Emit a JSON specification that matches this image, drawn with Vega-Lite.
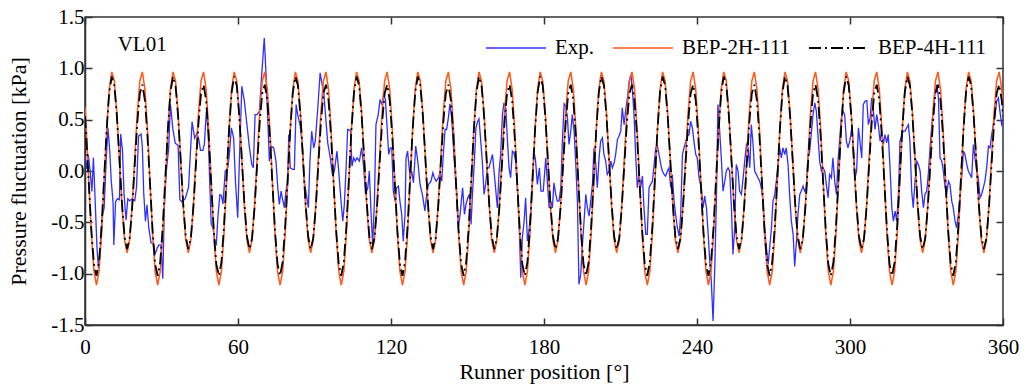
{
"$schema":"https://vega.github.io/schema/vega-lite/v6.json",
"width":918,"height":308,
"autosize":"none",
"padding":{"left":85,"top":17,"right":21,"bottom":66},
"background":"white",
"config":{"font":"Liberation Serif, Times New Roman, serif","view":{"stroke":"#333333","strokeWidth":1.5}},
"datasets":{
"exp":[
{"x":0.0,"e":0.15},{"x":0.7,"e":0.02},{"x":1.3,"e":0.16},{"x":2.0,"e":0.0},{"x":2.7,"e":-0.2},{"x":3.3,"e":0.13},{"x":4.0,"e":-0.3},{"x":4.7,"e":-0.75},{"x":5.3,"e":-0.95},{"x":6.0,"e":-0.75},{"x":6.7,"e":-0.45},{"x":7.5,"e":-0.36},{"x":8.3,"e":0.1},{"x":9.0,"e":0.42},{"x":9.7,"e":0.2},{"x":10.3,"e":-0.1},{"x":11.0,"e":-0.3},{"x":11.3,"e":-0.72},{"x":12.0,"e":-0.3},{"x":12.7,"e":-0.27},{"x":13.5,"e":-0.28},{"x":14.0,"e":0.36},{"x":14.7,"e":0.2},{"x":15.3,"e":-0.22},{"x":16.1,"e":-0.48},{"x":16.8,"e":-0.27},{"x":17.5,"e":-0.29},{"x":18.5,"e":-0.27},{"x":19.5,"e":-0.29},{"x":20.2,"e":-0.16},{"x":21.0,"e":0.34},{"x":22.0,"e":0.36},{"x":22.5,"e":0.23},{"x":23.0,"e":-0.2},{"x":23.7,"e":-0.49},{"x":24.3,"e":-0.33},{"x":25.0,"e":-0.55},{"x":25.9,"e":-0.7},{"x":26.7,"e":-0.7},{"x":27.5,"e":-0.81},{"x":28.3,"e":-0.75},{"x":29.0,"e":-0.72},{"x":29.8,"e":-0.72},{"x":30.5,"e":-1.05},{"x":31.1,"e":-0.36},{"x":31.9,"e":0.0},{"x":32.8,"e":0.22},{"x":33.5,"e":0.65},{"x":34.5,"e":0.4},{"x":35.4,"e":0.27},{"x":36.5,"e":0.25},{"x":37.2,"e":-0.28},{"x":38.0,"e":-0.3},{"x":39.3,"e":-0.27},{"x":40.6,"e":-0.16},{"x":42.0,"e":0.48},{"x":43.0,"e":0.32},{"x":43.9,"e":0.37},{"x":44.6,"e":0.31},{"x":45.3,"e":0.2},{"x":46.2,"e":0.2},{"x":46.8,"e":0.26},{"x":47.6,"e":0.58},{"x":48.3,"e":0.39},{"x":48.9,"e":-0.1},{"x":49.5,"e":-0.52},{"x":50.2,"e":-0.55},{"x":50.9,"e":-0.68},{"x":51.5,"e":-0.71},{"x":52.2,"e":-0.42},{"x":52.9,"e":-0.23},{"x":53.5,"e":-0.24},{"x":54.1,"e":-0.32},{"x":55.0,"e":0.0},{"x":56.0,"e":0.03},{"x":56.6,"e":0.16},{"x":57.4,"e":0.42},{"x":58.3,"e":0.32},{"x":59.0,"e":-0.1},{"x":59.8,"e":-0.42},
{"x":59.9,"e":-0.455},{"x":60.5,"e":0.064},{"x":61.5,"e":0.826},{"x":62.5,"e":0.68},{"x":63.5,"e":0.452},{"x":64.5,"e":0.226},{"x":65.4,"e":0.064},{"x":66.0,"e":0.031},{"x":66.7,"e":0.55},{"x":67.5,"e":0.55},{"x":68.4,"e":0.582},{"x":69.3,"e":0.939},{"x":70.3,"e":1.296},{"x":71.0,"e":0.939},{"x":71.6,"e":0.55},{"x":72.3,"e":0.096},{"x":73.0,"e":0.242},{"x":74.0,"e":0.226},{"x":74.9,"e":0.096},{"x":75.6,"e":-0.163},{"x":76.2,"e":-0.326},{"x":76.9,"e":-0.196},{"x":77.5,"e":-0.277},{"x":78.2,"e":-0.358},{"x":78.8,"e":-0.196},{"x":79.5,"e":-0.099},{"x":79.9,"e":0.355},{"x":80.5,"e":0.031},{"x":81.4,"e":0.015},{"x":82.1,"e":0.015},{"x":82.8,"e":0.647},{"x":83.4,"e":0.55},{"x":84.3,"e":0.452},{"x":85.1,"e":0.29},{"x":86.0,"e":-0.099},{"x":86.8,"e":-0.228},{"x":87.6,"e":-0.358},{"x":88.2,"e":0.096},{"x":88.9,"e":0.388},{"x":89.7,"e":0.226},{"x":90.3,"e":0.29},{"x":91.3,"e":0.615},{"x":92.2,"e":0.955},{"x":93.0,"e":0.841},{"x":93.6,"e":0.777},{"x":94.5,"e":0.485},{"x":95.2,"e":0.274},{"x":96.2,"e":0.128},{"x":97.1,"e":-0.05},{"x":97.8,"e":0.0},{"x":98.8,"e":0.193},{"x":99.5,"e":0.0},{"x":100.4,"e":-0.293},{"x":101.1,"e":-0.488},{"x":101.7,"e":-0.326},{"x":102.4,"e":0.031},{"x":103.0,"e":0.404},{"x":104.1,"e":0.394},{"x":104.7,"e":0.047},{"x":105.4,"e":0.128},{"x":106.0,"e":0.096},{"x":106.7,"e":0.128},{"x":107.6,"e":0.096},{"x":108.5,"e":0.226},{"x":109.3,"e":0.031},{"x":110.0,"e":-0.228},{"x":110.9,"e":-0.163},{"x":111.5,"e":0.0},{"x":112.2,"e":-0.423},{"x":112.8,"e":-0.72},{"x":113.5,"e":-0.293},{"x":114.1,"e":0.452},{"x":115.0,"e":0.55},{"x":115.7,"e":0.696},{"x":116.5,"e":0.647},{"x":117.1,"e":0.744},{"x":117.8,"e":0.696},{"x":118.4,"e":0.452},{"x":119.1,"e":0.161},{"x":119.7,"e":0.226},
{"x":120.3,"e":0.226},{"x":120.9,"e":-0.196},{"x":121.6,"e":-0.293},{"x":122.2,"e":-0.163},{"x":122.9,"e":-0.147},{"x":123.5,"e":-0.293},{"x":124.2,"e":-0.423},{"x":124.8,"e":-0.683},{"x":125.5,"e":-0.423},{"x":125.9,"e":0.128},{"x":126.5,"e":0.193},{"x":127.5,"e":-0.066},{"x":128.1,"e":0.0},{"x":128.8,"e":-0.115},{"x":129.7,"e":0.242},{"x":130.5,"e":0.096},{"x":131.4,"e":-0.131},{"x":132.3,"e":-0.228},{"x":133.3,"e":-0.39},{"x":134.0,"e":-0.228},{"x":134.7,"e":-0.131},{"x":135.7,"e":-0.099},{"x":136.4,"e":-0.018},{"x":137.0,"e":-0.066},{"x":137.7,"e":-0.099},{"x":138.6,"e":-0.066},{"x":139.2,"e":-0.018},{"x":139.9,"e":-0.099},{"x":140.5,"e":0.161},{"x":141.2,"e":0.404},{"x":141.8,"e":0.404},{"x":142.5,"e":0.517},{"x":143.1,"e":0.654},{"x":143.8,"e":0.517},{"x":144.5,"e":0.226},{"x":145.1,"e":0.0},{"x":145.8,"e":-0.228},{"x":146.4,"e":-0.553},{"x":147.1,"e":-0.423},{"x":147.7,"e":-0.261},{"x":148.1,"e":-0.163},{"x":148.8,"e":-0.423},{"x":149.4,"e":-0.326},{"x":150.1,"e":-0.261},{"x":150.7,"e":-0.228},{"x":151.4,"e":-0.52},{"x":152.0,"e":-0.196},{"x":152.7,"e":0.096},{"x":153.3,"e":0.42},{"x":154.0,"e":0.485},{"x":154.5,"e":0.508},{"x":155.2,"e":0.29},{"x":155.8,"e":0.096},{"x":156.5,"e":-0.228},{"x":157.1,"e":-0.131},{"x":157.8,"e":0.031},{"x":158.4,"e":0.031},{"x":159.1,"e":0.096},{"x":159.8,"e":0.161},{"x":160.4,"e":0.0},{"x":161.0,"e":-0.163},{"x":161.7,"e":-0.358},{"x":162.4,"e":0.0},{"x":163.0,"e":0.161},{"x":163.7,"e":0.55},{"x":164.3,"e":0.663},{"x":165.0,"e":0.615},{"x":165.6,"e":0.323},{"x":166.3,"e":0.031},{"x":166.9,"e":-0.066},{"x":167.6,"e":0.193},{"x":168.2,"e":0.177},{"x":168.9,"e":0.096},{"x":169.6,"e":-0.196},{"x":170.2,"e":-0.488},{"x":170.9,"e":-1.04},{"x":171.5,"e":-0.65},{"x":172.2,"e":-0.488},{"x":172.8,"e":-0.261},{"x":173.5,"e":-0.683},{"x":174.1,"e":-0.585},{"x":174.9,"e":-0.39},{"x":175.4,"e":-0.131},{"x":176.1,"e":0.193},{"x":176.7,"e":0.096},{"x":177.4,"e":-0.131},{"x":178.2,"e":0.031},{"x":178.8,"e":-0.196},{"x":179.7,"e":-0.196},
{"x":180.7,"e":0.128},{"x":181.3,"e":-0.099},{"x":182.0,"e":-0.358},{"x":182.6,"e":-0.293},{"x":183.3,"e":-0.358},{"x":183.9,"e":-0.115},{"x":184.6,"e":-0.228},{"x":185.2,"e":-0.293},{"x":185.9,"e":-0.293},{"x":186.6,"e":-0.163},{"x":187.2,"e":0.29},{"x":187.9,"e":0.654},{"x":188.5,"e":0.631},{"x":189.2,"e":0.517},{"x":189.8,"e":0.258},{"x":190.5,"e":0.388},{"x":191.1,"e":0.55},{"x":191.8,"e":0.388},{"x":192.4,"e":0.096},{"x":193.1,"e":-0.293},{"x":193.7,"e":-1.104},{"x":194.4,"e":-1.007},{"x":195.0,"e":-0.747},{"x":195.7,"e":-0.488},{"x":196.4,"e":-0.228},{"x":197.0,"e":-0.358},{"x":197.7,"e":-0.439},{"x":198.3,"e":-0.293},{"x":199.0,"e":-0.131},{"x":199.6,"e":0.226},{"x":200.3,"e":0.064},{"x":200.9,"e":-0.163},{"x":201.6,"e":0.128},{"x":202.2,"e":0.29},{"x":202.9,"e":0.323},{"x":203.5,"e":0.161},{"x":204.2,"e":0.096},{"x":204.8,"e":-0.034},{"x":205.5,"e":0.0},{"x":206.2,"e":0.096},{"x":206.8,"e":0.031},{"x":207.5,"e":0.08},{"x":208.1,"e":0.161},{"x":208.8,"e":0.307},{"x":209.4,"e":0.339},{"x":210.1,"e":0.388},{"x":210.7,"e":0.615},{"x":211.4,"e":0.452},{"x":212.0,"e":0.582},{"x":212.7,"e":0.712},{"x":213.4,"e":0.874},{"x":214.1,"e":0.939},{"x":214.7,"e":0.777},{"x":215.3,"e":0.55},{"x":216.0,"e":0.128},{"x":216.6,"e":-0.163},{"x":217.3,"e":-0.034},{"x":217.9,"e":-0.163},{"x":218.6,"e":-0.05},{"x":219.2,"e":-0.358},{"x":219.9,"e":-0.618},{"x":220.5,"e":-0.618},{"x":221.2,"e":-0.163},{"x":221.8,"e":-0.131},{"x":222.5,"e":-0.099},{"x":223.2,"e":0.064},{"x":223.8,"e":0.226},{"x":224.5,"e":0.242},{"x":225.1,"e":0.161},{"x":225.8,"e":0.064},{"x":226.4,"e":0.0},{"x":227.1,"e":-0.034},{"x":227.7,"e":-0.05},{"x":228.4,"e":0.0},{"x":229.0,"e":0.031},{"x":229.7,"e":-0.163},{"x":230.3,"e":-0.034},{"x":231.0,"e":-0.293},{"x":231.6,"e":-0.423},{"x":232.3,"e":-0.553},{"x":233.0,"e":-0.634},{"x":233.6,"e":-0.423},{"x":234.3,"e":0.161},{"x":234.9,"e":0.226},{"x":235.6,"e":0.29},{"x":236.2,"e":0.339},{"x":236.9,"e":0.355},{"x":237.5,"e":0.485},{"x":238.2,"e":0.42},{"x":238.8,"e":0.29},{"x":239.5,"e":0.161},{"x":240.1,"e":0.128},{"x":240.8,"e":-0.066},
{"x":241.1,"e":-0.099},{"x":241.7,"e":-0.163},{"x":242.4,"e":-0.358},{"x":243.0,"e":-0.245},{"x":243.7,"e":-0.358},{"x":244.3,"e":-0.585},{"x":245.0,"e":-0.877},{"x":245.6,"e":-1.072},{"x":246.3,"e":-1.46},{"x":247.0,"e":-0.91},{"x":247.6,"e":-0.293},{"x":248.2,"e":0.647},{"x":248.9,"e":0.388},{"x":249.6,"e":0.096},{"x":250.2,"e":-0.196},{"x":250.9,"e":-0.099},{"x":251.5,"e":0.0},{"x":252.2,"e":0.031},{"x":252.8,"e":0.0},{"x":253.5,"e":-0.358},{"x":254.1,"e":-0.812},{"x":254.8,"e":-0.553},{"x":255.4,"e":0.064},{"x":256.1,"e":0.0},{"x":256.7,"e":-0.196},{"x":257.4,"e":-0.228},{"x":258.1,"e":-0.066},{"x":258.7,"e":0.096},{"x":259.4,"e":0.258},{"x":260.0,"e":0.226},{"x":260.7,"e":0.031},{"x":261.3,"e":0.452},{"x":262.0,"e":0.258},{"x":262.6,"e":0.0},{"x":263.3,"e":-0.034},{"x":263.9,"e":-0.066},{"x":264.6,"e":-0.099},{"x":265.2,"e":-0.163},{"x":265.9,"e":-0.293},{"x":266.5,"e":-0.553},{"x":267.2,"e":-0.747},{"x":267.9,"e":-0.91},{"x":268.5,"e":-0.747},{"x":269.2,"e":-0.553},{"x":269.8,"e":-0.293},{"x":270.5,"e":-0.228},{"x":271.1,"e":-0.099},{"x":271.8,"e":0.064},{"x":272.4,"e":0.226},{"x":273.1,"e":0.128},{"x":273.7,"e":0.226},{"x":274.4,"e":0.161},{"x":275.0,"e":0.226},{"x":275.7,"e":0.064},{"x":276.4,"e":-0.261},{"x":277.0,"e":-0.488},{"x":277.7,"e":-0.618},{"x":278.3,"e":-0.93},{"x":279.0,"e":-0.683},{"x":279.6,"e":-0.423},{"x":280.3,"e":-0.228},{"x":280.9,"e":-0.196},{"x":281.6,"e":-0.147},{"x":282.2,"e":-0.196},{"x":282.9,"e":-0.163},{"x":283.5,"e":0.128},{"x":284.2,"e":0.193},{"x":284.9,"e":0.388},{"x":285.5,"e":0.55},{"x":286.2,"e":0.663},{"x":286.8,"e":0.582},{"x":287.5,"e":0.323},{"x":288.1,"e":0.096},{"x":288.8,"e":0.0},{"x":289.4,"e":0.031},{"x":290.1,"e":0.0},{"x":290.7,"e":-0.131},{"x":291.4,"e":-0.261},{"x":292.0,"e":-0.034},{"x":292.7,"e":-0.066},{"x":293.3,"e":0.128},{"x":294.0,"e":-0.099},{"x":294.7,"e":-0.228},{"x":295.3,"e":0.096},{"x":296.0,"e":0.323},{"x":296.6,"e":0.517},{"x":297.3,"e":0.582},{"x":297.9,"e":0.55},{"x":298.6,"e":0.29},{"x":299.2,"e":0.226},{"x":299.9,"e":0.29},
{"x":300.7,"e":0.42},{"x":301.3,"e":0.226},{"x":302.0,"e":-0.066},{"x":302.6,"e":0.0},{"x":303.3,"e":0.42},{"x":303.9,"e":0.29},{"x":304.6,"e":0.128},{"x":305.2,"e":0.647},{"x":305.9,"e":0.68},{"x":306.6,"e":0.686},{"x":307.2,"e":0.452},{"x":307.9,"e":0.517},{"x":308.5,"e":0.712},{"x":309.2,"e":0.582},{"x":309.8,"e":0.404},{"x":310.5,"e":0.55},{"x":311.1,"e":0.452},{"x":311.8,"e":0.29},{"x":312.4,"e":0.388},{"x":313.1,"e":0.258},{"x":313.7,"e":0.355},{"x":314.4,"e":0.274},{"x":315.0,"e":0.355},{"x":315.7,"e":0.031},{"x":316.4,"e":-0.358},{"x":317.0,"e":-0.488},{"x":317.7,"e":-0.39},{"x":318.3,"e":-0.488},{"x":319.0,"e":-0.228},{"x":319.6,"e":0.29},{"x":320.3,"e":0.355},{"x":320.9,"e":0.388},{"x":321.6,"e":0.388},{"x":322.2,"e":0.42},{"x":322.9,"e":0.452},{"x":323.5,"e":0.29},{"x":324.2,"e":-0.196},{"x":324.8,"e":-0.358},{"x":325.5,"e":-0.099},{"x":326.2,"e":0.096},{"x":326.8,"e":0.064},{"x":327.5,"e":0.0},{"x":328.1,"e":-0.196},{"x":328.8,"e":-0.358},{"x":329.4,"e":-0.228},{"x":330.1,"e":-0.196},{"x":330.7,"e":-0.034},{"x":331.4,"e":0.226},{"x":332.0,"e":0.42},{"x":332.7,"e":0.615},{"x":333.3,"e":0.744},{"x":334.0,"e":0.841},{"x":334.7,"e":0.712},{"x":335.3,"e":0.128},{"x":336.0,"e":0.096},{"x":336.6,"e":0.0},{"x":337.3,"e":-0.163},{"x":337.9,"e":-0.228},{"x":338.6,"e":-0.099},{"x":339.2,"e":-0.131},{"x":339.9,"e":-0.293},{"x":340.5,"e":-0.358},{"x":341.2,"e":-0.488},{"x":341.8,"e":-0.553},{"x":342.5,"e":-0.423},{"x":343.1,"e":-0.261},{"x":343.8,"e":-0.066},{"x":344.5,"e":0.193},{"x":345.1,"e":0.161},{"x":345.8,"e":0.064},{"x":346.4,"e":0.0},{"x":347.1,"e":-0.034},{"x":347.7,"e":-0.066},{"x":348.4,"e":0.258},{"x":349.0,"e":0.128},{"x":349.7,"e":0.0},{"x":350.3,"e":-0.066},{"x":351.0,"e":-0.261},{"x":351.6,"e":-0.228},{"x":352.3,"e":-0.163},{"x":352.9,"e":-0.099},{"x":353.6,"e":0.031},{"x":354.3,"e":0.242},{"x":354.9,"e":0.226},{"x":355.6,"e":0.355},{"x":356.2,"e":0.452},{"x":356.9,"e":0.55},{"x":357.5,"e":0.68},{"x":358.2,"e":0.712},{"x":358.8,"e":0.582},{"x":359.5,"e":0.452},{"x":360.0,"e":0.48}
],
"sim":[
{"x":0,"o":0.624,"k":0.534},
{"x":0.5,"o":0.407,"k":0.338},{"x":1.5,"o":-0.105,"k":-0.125},{"x":2.5,"o":-0.61,"k":-0.58},{"x":3.5,"o":-0.977,"k":-0.907},{"x":4.5,"o":-1.111,"k":-1.02},{"x":5.5,"o":-0.977,"k":-0.887},{"x":6.5,"o":-0.61,"k":-0.54},{"x":7.5,"o":-0.105,"k":-0.069},{"x":8.5,"o":0.407,"k":0.407},{"x":9.5,"o":0.796,"k":0.766},{"x":10.5,"o":0.965,"k":0.92},{"x":11.5,"o":0.877,"k":0.834},{"x":12.5,"o":0.564,"k":0.537},{"x":13.5,"o":0.117,"k":0.115},{"x":14.5,"o":-0.337,"k":-0.315},{"x":15.5,"o":-0.672,"k":-0.635},{"x":16.5,"o":-0.796,"k":-0.76},{"x":17.5,"o":-0.672,"k":-0.656},{"x":18.5,"o":-0.337,"k":-0.355},{"x":19.5,"o":0.117,"k":0.059},{"x":20.5,"o":0.564,"k":0.468},{"x":21.5,"o":0.877,"k":0.756},{"x":22.5,"o":0.965,"k":0.84},{"x":23.5,"o":0.796,"k":0.689},
{"x":24.5,"o":0.407,"k":0.338},{"x":25.5,"o":-0.105,"k":-0.125},{"x":26.5,"o":-0.61,"k":-0.58},{"x":27.5,"o":-0.977,"k":-0.907},{"x":28.5,"o":-1.111,"k":-1.02},{"x":29.5,"o":-0.977,"k":-0.887},{"x":30.5,"o":-0.61,"k":-0.54},{"x":31.5,"o":-0.105,"k":-0.069},{"x":32.5,"o":0.407,"k":0.407},{"x":33.5,"o":0.796,"k":0.766},{"x":34.5,"o":0.965,"k":0.92},{"x":35.5,"o":0.877,"k":0.834},{"x":36.5,"o":0.564,"k":0.537},{"x":37.5,"o":0.117,"k":0.115},{"x":38.5,"o":-0.337,"k":-0.315},{"x":39.5,"o":-0.672,"k":-0.635},{"x":40.5,"o":-0.796,"k":-0.76},{"x":41.5,"o":-0.672,"k":-0.656},{"x":42.5,"o":-0.337,"k":-0.355},{"x":43.5,"o":0.117,"k":0.059},{"x":44.5,"o":0.564,"k":0.468},{"x":45.5,"o":0.877,"k":0.756},{"x":46.5,"o":0.965,"k":0.84},{"x":47.5,"o":0.796,"k":0.689},
{"x":48.5,"o":0.407,"k":0.338},{"x":49.5,"o":-0.105,"k":-0.125},{"x":50.5,"o":-0.61,"k":-0.58},{"x":51.5,"o":-0.977,"k":-0.907},{"x":52.5,"o":-1.111,"k":-1.02},{"x":53.5,"o":-0.977,"k":-0.887},{"x":54.5,"o":-0.61,"k":-0.54},{"x":55.5,"o":-0.105,"k":-0.069},{"x":56.5,"o":0.407,"k":0.407},{"x":57.5,"o":0.796,"k":0.766},{"x":58.5,"o":0.965,"k":0.92},{"x":59.5,"o":0.877,"k":0.834},{"x":60.5,"o":0.564,"k":0.537},{"x":61.5,"o":0.117,"k":0.115},{"x":62.5,"o":-0.337,"k":-0.315},{"x":63.5,"o":-0.672,"k":-0.635},{"x":64.5,"o":-0.796,"k":-0.76},{"x":65.5,"o":-0.672,"k":-0.656},{"x":66.5,"o":-0.337,"k":-0.355},{"x":67.5,"o":0.117,"k":0.059},{"x":68.5,"o":0.564,"k":0.468},{"x":69.5,"o":0.877,"k":0.756},{"x":70.5,"o":0.965,"k":0.84},{"x":71.5,"o":0.796,"k":0.689},
{"x":72.5,"o":0.407,"k":0.338},{"x":73.5,"o":-0.105,"k":-0.125},{"x":74.5,"o":-0.61,"k":-0.58},{"x":75.5,"o":-0.977,"k":-0.907},{"x":76.5,"o":-1.111,"k":-1.02},{"x":77.5,"o":-0.977,"k":-0.887},{"x":78.5,"o":-0.61,"k":-0.54},{"x":79.5,"o":-0.105,"k":-0.069},{"x":80.5,"o":0.407,"k":0.407},{"x":81.5,"o":0.796,"k":0.766},{"x":82.5,"o":0.965,"k":0.92},{"x":83.5,"o":0.877,"k":0.834},{"x":84.5,"o":0.564,"k":0.537},{"x":85.5,"o":0.117,"k":0.115},{"x":86.5,"o":-0.337,"k":-0.315},{"x":87.5,"o":-0.672,"k":-0.635},{"x":88.5,"o":-0.796,"k":-0.76},{"x":89.5,"o":-0.672,"k":-0.656},{"x":90.5,"o":-0.337,"k":-0.355},{"x":91.5,"o":0.117,"k":0.059},{"x":92.5,"o":0.564,"k":0.468},{"x":93.5,"o":0.877,"k":0.756},{"x":94.5,"o":0.965,"k":0.84},{"x":95.5,"o":0.796,"k":0.689},
{"x":96.5,"o":0.407,"k":0.338},{"x":97.5,"o":-0.105,"k":-0.125},{"x":98.5,"o":-0.61,"k":-0.58},{"x":99.5,"o":-0.977,"k":-0.907},{"x":100.5,"o":-1.111,"k":-1.02},{"x":101.5,"o":-0.977,"k":-0.887},{"x":102.5,"o":-0.61,"k":-0.54},{"x":103.5,"o":-0.105,"k":-0.069},{"x":104.5,"o":0.407,"k":0.407},{"x":105.5,"o":0.796,"k":0.766},{"x":106.5,"o":0.965,"k":0.92},{"x":107.5,"o":0.877,"k":0.834},{"x":108.5,"o":0.564,"k":0.537},{"x":109.5,"o":0.117,"k":0.115},{"x":110.5,"o":-0.337,"k":-0.315},{"x":111.5,"o":-0.672,"k":-0.635},{"x":112.5,"o":-0.796,"k":-0.76},{"x":113.5,"o":-0.672,"k":-0.656},{"x":114.5,"o":-0.337,"k":-0.355},{"x":115.5,"o":0.117,"k":0.059},{"x":116.5,"o":0.564,"k":0.468},{"x":117.5,"o":0.877,"k":0.756},{"x":118.5,"o":0.965,"k":0.84},{"x":119.5,"o":0.796,"k":0.689},
{"x":120.5,"o":0.407,"k":0.338},{"x":121.5,"o":-0.105,"k":-0.125},{"x":122.5,"o":-0.61,"k":-0.58},{"x":123.5,"o":-0.977,"k":-0.907},{"x":124.5,"o":-1.111,"k":-1.02},{"x":125.5,"o":-0.977,"k":-0.887},{"x":126.5,"o":-0.61,"k":-0.54},{"x":127.5,"o":-0.105,"k":-0.069},{"x":128.5,"o":0.407,"k":0.407},{"x":129.5,"o":0.796,"k":0.766},{"x":130.5,"o":0.965,"k":0.92},{"x":131.5,"o":0.877,"k":0.834},{"x":132.5,"o":0.564,"k":0.537},{"x":133.5,"o":0.117,"k":0.115},{"x":134.5,"o":-0.337,"k":-0.315},{"x":135.5,"o":-0.672,"k":-0.635},{"x":136.5,"o":-0.796,"k":-0.76},{"x":137.5,"o":-0.672,"k":-0.656},{"x":138.5,"o":-0.337,"k":-0.355},{"x":139.5,"o":0.117,"k":0.059},{"x":140.5,"o":0.564,"k":0.468},{"x":141.5,"o":0.877,"k":0.756},{"x":142.5,"o":0.965,"k":0.84},{"x":143.5,"o":0.796,"k":0.689},
{"x":144.5,"o":0.407,"k":0.338},{"x":145.5,"o":-0.105,"k":-0.125},{"x":146.5,"o":-0.61,"k":-0.58},{"x":147.5,"o":-0.977,"k":-0.907},{"x":148.5,"o":-1.111,"k":-1.02},{"x":149.5,"o":-0.977,"k":-0.887},{"x":150.5,"o":-0.61,"k":-0.54},{"x":151.5,"o":-0.105,"k":-0.069},{"x":152.5,"o":0.407,"k":0.407},{"x":153.5,"o":0.796,"k":0.766},{"x":154.5,"o":0.965,"k":0.92},{"x":155.5,"o":0.877,"k":0.834},{"x":156.5,"o":0.564,"k":0.537},{"x":157.5,"o":0.117,"k":0.115},{"x":158.5,"o":-0.337,"k":-0.315},{"x":159.5,"o":-0.672,"k":-0.635},{"x":160.5,"o":-0.796,"k":-0.76},{"x":161.5,"o":-0.672,"k":-0.656},{"x":162.5,"o":-0.337,"k":-0.355},{"x":163.5,"o":0.117,"k":0.059},{"x":164.5,"o":0.564,"k":0.468},{"x":165.5,"o":0.877,"k":0.756},{"x":166.5,"o":0.965,"k":0.84},{"x":167.5,"o":0.796,"k":0.689},
{"x":168.5,"o":0.407,"k":0.338},{"x":169.5,"o":-0.105,"k":-0.125},{"x":170.5,"o":-0.61,"k":-0.58},{"x":171.5,"o":-0.977,"k":-0.907},{"x":172.5,"o":-1.111,"k":-1.02},{"x":173.5,"o":-0.977,"k":-0.887},{"x":174.5,"o":-0.61,"k":-0.54},{"x":175.5,"o":-0.105,"k":-0.069},{"x":176.5,"o":0.407,"k":0.407},{"x":177.5,"o":0.796,"k":0.766},{"x":178.5,"o":0.965,"k":0.92},{"x":179.5,"o":0.877,"k":0.834},{"x":180.5,"o":0.564,"k":0.537},{"x":181.5,"o":0.117,"k":0.115},{"x":182.5,"o":-0.337,"k":-0.315},{"x":183.5,"o":-0.672,"k":-0.635},{"x":184.5,"o":-0.796,"k":-0.76},{"x":185.5,"o":-0.672,"k":-0.656},{"x":186.5,"o":-0.337,"k":-0.355},{"x":187.5,"o":0.117,"k":0.059},{"x":188.5,"o":0.564,"k":0.468},{"x":189.5,"o":0.877,"k":0.756},{"x":190.5,"o":0.965,"k":0.84},{"x":191.5,"o":0.796,"k":0.689},
{"x":192.5,"o":0.407,"k":0.338},{"x":193.5,"o":-0.105,"k":-0.125},{"x":194.5,"o":-0.61,"k":-0.58},{"x":195.5,"o":-0.977,"k":-0.907},{"x":196.5,"o":-1.111,"k":-1.02},{"x":197.5,"o":-0.977,"k":-0.887},{"x":198.5,"o":-0.61,"k":-0.54},{"x":199.5,"o":-0.105,"k":-0.069},{"x":200.5,"o":0.407,"k":0.407},{"x":201.5,"o":0.796,"k":0.766},{"x":202.5,"o":0.965,"k":0.92},{"x":203.5,"o":0.877,"k":0.834},{"x":204.5,"o":0.564,"k":0.537},{"x":205.5,"o":0.117,"k":0.115},{"x":206.5,"o":-0.337,"k":-0.315},{"x":207.5,"o":-0.672,"k":-0.635},{"x":208.5,"o":-0.796,"k":-0.76},{"x":209.5,"o":-0.672,"k":-0.656},{"x":210.5,"o":-0.337,"k":-0.355},{"x":211.5,"o":0.117,"k":0.059},{"x":212.5,"o":0.564,"k":0.468},{"x":213.5,"o":0.877,"k":0.756},{"x":214.5,"o":0.965,"k":0.84},{"x":215.5,"o":0.796,"k":0.689},
{"x":216.5,"o":0.407,"k":0.338},{"x":217.5,"o":-0.105,"k":-0.125},{"x":218.5,"o":-0.61,"k":-0.58},{"x":219.5,"o":-0.977,"k":-0.907},{"x":220.5,"o":-1.111,"k":-1.02},{"x":221.5,"o":-0.977,"k":-0.887},{"x":222.5,"o":-0.61,"k":-0.54},{"x":223.5,"o":-0.105,"k":-0.069},{"x":224.5,"o":0.407,"k":0.407},{"x":225.5,"o":0.796,"k":0.766},{"x":226.5,"o":0.965,"k":0.92},{"x":227.5,"o":0.877,"k":0.834},{"x":228.5,"o":0.564,"k":0.537},{"x":229.5,"o":0.117,"k":0.115},{"x":230.5,"o":-0.337,"k":-0.315},{"x":231.5,"o":-0.672,"k":-0.635},{"x":232.5,"o":-0.796,"k":-0.76},{"x":233.5,"o":-0.672,"k":-0.656},{"x":234.5,"o":-0.337,"k":-0.355},{"x":235.5,"o":0.117,"k":0.059},{"x":236.5,"o":0.564,"k":0.468},{"x":237.5,"o":0.877,"k":0.756},{"x":238.5,"o":0.965,"k":0.84},{"x":239.5,"o":0.796,"k":0.689},
{"x":240.5,"o":0.407,"k":0.338},{"x":241.5,"o":-0.105,"k":-0.125},{"x":242.5,"o":-0.61,"k":-0.58},{"x":243.5,"o":-0.977,"k":-0.907},{"x":244.5,"o":-1.111,"k":-1.02},{"x":245.5,"o":-0.977,"k":-0.887},{"x":246.5,"o":-0.61,"k":-0.54},{"x":247.5,"o":-0.105,"k":-0.069},{"x":248.5,"o":0.407,"k":0.407},{"x":249.5,"o":0.796,"k":0.766},{"x":250.5,"o":0.965,"k":0.92},{"x":251.5,"o":0.877,"k":0.834},{"x":252.5,"o":0.564,"k":0.537},{"x":253.5,"o":0.117,"k":0.115},{"x":254.5,"o":-0.337,"k":-0.315},{"x":255.5,"o":-0.672,"k":-0.635},{"x":256.5,"o":-0.796,"k":-0.76},{"x":257.5,"o":-0.672,"k":-0.656},{"x":258.5,"o":-0.337,"k":-0.355},{"x":259.5,"o":0.117,"k":0.059},{"x":260.5,"o":0.564,"k":0.468},{"x":261.5,"o":0.877,"k":0.756},{"x":262.5,"o":0.965,"k":0.84},{"x":263.5,"o":0.796,"k":0.689},
{"x":264.5,"o":0.407,"k":0.338},{"x":265.5,"o":-0.105,"k":-0.125},{"x":266.5,"o":-0.61,"k":-0.58},{"x":267.5,"o":-0.977,"k":-0.907},{"x":268.5,"o":-1.111,"k":-1.02},{"x":269.5,"o":-0.977,"k":-0.887},{"x":270.5,"o":-0.61,"k":-0.54},{"x":271.5,"o":-0.105,"k":-0.069},{"x":272.5,"o":0.407,"k":0.407},{"x":273.5,"o":0.796,"k":0.766},{"x":274.5,"o":0.965,"k":0.92},{"x":275.5,"o":0.877,"k":0.834},{"x":276.5,"o":0.564,"k":0.537},{"x":277.5,"o":0.117,"k":0.115},{"x":278.5,"o":-0.337,"k":-0.315},{"x":279.5,"o":-0.672,"k":-0.635},{"x":280.5,"o":-0.796,"k":-0.76},{"x":281.5,"o":-0.672,"k":-0.656},{"x":282.5,"o":-0.337,"k":-0.355},{"x":283.5,"o":0.117,"k":0.059},{"x":284.5,"o":0.564,"k":0.468},{"x":285.5,"o":0.877,"k":0.756},{"x":286.5,"o":0.965,"k":0.84},{"x":287.5,"o":0.796,"k":0.689},
{"x":288.5,"o":0.407,"k":0.338},{"x":289.5,"o":-0.105,"k":-0.125},{"x":290.5,"o":-0.61,"k":-0.58},{"x":291.5,"o":-0.977,"k":-0.907},{"x":292.5,"o":-1.111,"k":-1.02},{"x":293.5,"o":-0.977,"k":-0.887},{"x":294.5,"o":-0.61,"k":-0.54},{"x":295.5,"o":-0.105,"k":-0.069},{"x":296.5,"o":0.407,"k":0.407},{"x":297.5,"o":0.796,"k":0.766},{"x":298.5,"o":0.965,"k":0.92},{"x":299.5,"o":0.877,"k":0.834},{"x":300.5,"o":0.564,"k":0.537},{"x":301.5,"o":0.117,"k":0.115},{"x":302.5,"o":-0.337,"k":-0.315},{"x":303.5,"o":-0.672,"k":-0.635},{"x":304.5,"o":-0.796,"k":-0.76},{"x":305.5,"o":-0.672,"k":-0.656},{"x":306.5,"o":-0.337,"k":-0.355},{"x":307.5,"o":0.117,"k":0.059},{"x":308.5,"o":0.564,"k":0.468},{"x":309.5,"o":0.877,"k":0.756},{"x":310.5,"o":0.965,"k":0.84},{"x":311.5,"o":0.796,"k":0.689},
{"x":312.5,"o":0.407,"k":0.338},{"x":313.5,"o":-0.105,"k":-0.125},{"x":314.5,"o":-0.61,"k":-0.58},{"x":315.5,"o":-0.977,"k":-0.907},{"x":316.5,"o":-1.111,"k":-1.02},{"x":317.5,"o":-0.977,"k":-0.887},{"x":318.5,"o":-0.61,"k":-0.54},{"x":319.5,"o":-0.105,"k":-0.069},{"x":320.5,"o":0.407,"k":0.407},{"x":321.5,"o":0.796,"k":0.766},{"x":322.5,"o":0.965,"k":0.92},{"x":323.5,"o":0.877,"k":0.834},{"x":324.5,"o":0.564,"k":0.537},{"x":325.5,"o":0.117,"k":0.115},{"x":326.5,"o":-0.337,"k":-0.315},{"x":327.5,"o":-0.672,"k":-0.635},{"x":328.5,"o":-0.796,"k":-0.76},{"x":329.5,"o":-0.672,"k":-0.656},{"x":330.5,"o":-0.337,"k":-0.355},{"x":331.5,"o":0.117,"k":0.059},{"x":332.5,"o":0.564,"k":0.468},{"x":333.5,"o":0.877,"k":0.756},{"x":334.5,"o":0.965,"k":0.84},{"x":335.5,"o":0.796,"k":0.689},
{"x":336.5,"o":0.407,"k":0.338},{"x":337.5,"o":-0.105,"k":-0.125},{"x":338.5,"o":-0.61,"k":-0.58},{"x":339.5,"o":-0.977,"k":-0.907},{"x":340.5,"o":-1.111,"k":-1.02},{"x":341.5,"o":-0.977,"k":-0.887},{"x":342.5,"o":-0.61,"k":-0.54},{"x":343.5,"o":-0.105,"k":-0.069},{"x":344.5,"o":0.407,"k":0.407},{"x":345.5,"o":0.796,"k":0.766},{"x":346.5,"o":0.965,"k":0.92},{"x":347.5,"o":0.877,"k":0.834},{"x":348.5,"o":0.564,"k":0.537},{"x":349.5,"o":0.117,"k":0.115},{"x":350.5,"o":-0.337,"k":-0.315},{"x":351.5,"o":-0.672,"k":-0.635},{"x":352.5,"o":-0.796,"k":-0.76},{"x":353.5,"o":-0.672,"k":-0.656},{"x":354.5,"o":-0.337,"k":-0.355},{"x":355.5,"o":0.117,"k":0.059},{"x":356.5,"o":0.564,"k":0.468},{"x":357.5,"o":0.877,"k":0.756},{"x":358.5,"o":0.965,"k":0.84},{"x":359.5,"o":0.796,"k":0.689},
{"x":360,"o":0.624,"k":0.534}
],
"note":[{"label":"VL01"}]
},
"resolve":{"axis":{"x":"independent","y":"independent"}},
"layer":[
{"data":{"name":"exp"},
"transform":[{"fold":["e"],"as":["s","y"]}],
"mark":{"type":"line","clip":true},
"encoding":{
"x":{"field":"x","type":"quantitative","scale":{"domain":[0,360],"nice":false,"zero":false},"axis":{"orient":"bottom","values":[0,60,120,180,240,300,360],"title":"Runner position [°]","grid":false,"labelFont":"Liberation Serif, Times New Roman, serif","labelFontSize":21,"labelColor":"#000","titleFont":"Liberation Serif, Times New Roman, serif","titleFontSize":22,"titleFontWeight":"normal","titleColor":"#000","domainColor":"#333","domainWidth":1.5,"tickColor":"#333","tickWidth":1.5,"tickSize":-7,"labelPadding":18,"titlePadding":4,"labelFlush":false}},
"y":{"field":"y","type":"quantitative","scale":{"domain":[-1.5,1.5],"nice":false,"zero":false},"axis":{"orient":"left","values":[-1.5,-1,-0.5,0,0.5,1,1.5],"title":"Pressure fluctuation [kPa]","grid":false,"labelFont":"Liberation Serif, Times New Roman, serif","labelFontSize":21,"labelColor":"#000","titleFont":"Liberation Serif, Times New Roman, serif","titleFontSize":22,"titleFontWeight":"normal","titleColor":"#000","domainColor":"#333","domainWidth":1.5,"tickColor":"#333","tickWidth":1.5,"tickSize":-7,"labelPadding":8,"titlePadding":20,"labelFlush":false,"labelExpr":"replace(format(datum.value,'.1f'),'\u2212','-')"}},
"color":{"field":"s","type":"nominal","scale":{"domain":["e","o","k"],"range":["#2f2fff","#ff5a1e","#000000"]},"legend":{"title":null,"orient":"none","legendX":400,"legendY":0,"direction":"horizontal","symbolType":"stroke","symbolSize":3600,"symbolStrokeWidth":1.8,"labelFont":"Liberation Serif, Times New Roman, serif","labelFontSize":21,"labelColor":"#000","labelOffset":8,"columnPadding":14,"labelExpr":"datum.label == 'e' ? 'Exp.' : datum.label == 'o' ? 'BEP-2H-111' : 'BEP-4H-111'"}},
"strokeDash":{"field":"s","type":"nominal","scale":{"domain":["e","o","k"],"range":[[1,0],[1,0],[12,4,2,4]]},"legend":{"title":null,"orient":"none","legendX":400,"legendY":0,"direction":"horizontal","symbolType":"stroke","symbolSize":3600,"symbolStrokeWidth":1.8,"labelFont":"Liberation Serif, Times New Roman, serif","labelFontSize":21,"labelColor":"#000","labelOffset":8,"columnPadding":14,"labelExpr":"datum.label == 'e' ? 'Exp.' : datum.label == 'o' ? 'BEP-2H-111' : 'BEP-4H-111'"}},
"strokeWidth":{"field":"s","type":"ordinal","scale":{"domain":["e","o","k"],"range":[1.3,1.8,1.6]},"legend":null}
}},
{"data":{"name":"sim"},
"transform":[{"fold":["o","k"],"as":["s","y"]}],
"mark":{"type":"line","clip":true},
"encoding":{
"x":{"field":"x","type":"quantitative","axis":null},
"y":{"field":"y","type":"quantitative","axis":null},
"color":{"field":"s","type":"nominal"},
"strokeDash":{"field":"s","type":"nominal"},
"strokeWidth":{"field":"s","type":"ordinal","legend":null}
}},
{"data":{"name":"note"},
"mark":{"type":"text","align":"left","baseline":"middle","fontSize":21,"font":"Liberation Serif, Times New Roman, serif","color":"#000"},
"encoding":{
"x":{"datum":12.8,"type":"quantitative","axis":{"orient":"top","values":[0,60,120,180,240,300,360],"labels":false,"title":null,"domain":false,"grid":false,"tickColor":"#333","tickWidth":1.5,"tickSize":-7}},
"y":{"datum":1.23,"type":"quantitative","axis":{"orient":"right","values":[-1.5,-1,-0.5,0,0.5,1,1.5],"labels":false,"title":null,"domain":false,"grid":false,"tickColor":"#333","tickWidth":1.5,"tickSize":-7}},
"text":{"field":"label"}
}}
]
}
